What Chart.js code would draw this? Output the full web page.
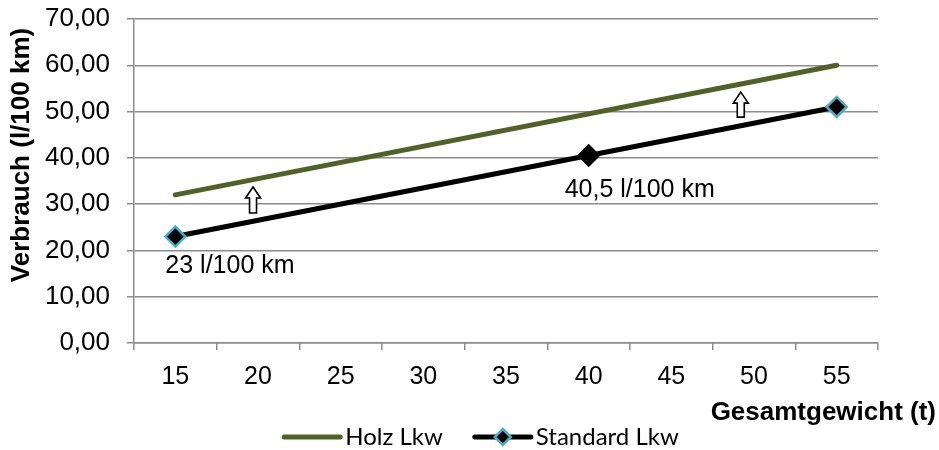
<!DOCTYPE html>
<html>
<head>
<meta charset="utf-8">
<script src="https://cdn.jsdelivr.net/npm/chart.js@4.4.1/dist/chart.umd.min.js"></script>
<style>
  html, body { margin: 0; padding: 0; background: #ffffff; }
  #wrap { width: 939px; height: 450px; position: relative; }
</style>
</head>
<body>
<div id="wrap"><canvas id="chart"></canvas></div>
<script>
// Gesamtgewicht (t) categories and fuel use (l/100 km) per truck type
const categories = ['15', '20', '25', '30', '35', '40', '45', '50', '55'];
const holzLkw = [32, null, null, null, null, null, null, null, 60];
const standardLkw = [23, null, null, null, null, 40.5, null, null, 51];
const yTickValues = [0, 10, 20, 30, 40, 50, 60, 70];

// Standard Lkw points that carry a value label, with the label offset (px)
const valueLabels = [
  { index: 0, dx: -10, dy: 30 },
  { index: 5, dx: -24, dy: 35 }
];

// Hollow up arrows between the two lines: x as category position, y as value span
const upArrows = [
  { at: 0.94, from: 28.1, to: 33.7 },
  { at: 6.84, from: 48.8, to: 54.2 }
];

const GRID = '#8c8c8c';
const OLIVE = '#4f6228';
const DIAMOND_EDGE = '#4bacc6';
const ARIAL = "'Liberation Sans', Arial, sans-serif";
const LEGEND_FONT = "Lato, 'Open Sans', sans-serif";

const fmtComma = (v, digits) => {
  const s = digits === undefined ? String(v) : v.toFixed(digits);
  return s.replace('.', ',');
};

const decorations = {
  id: 'decorations',
  afterDatasetsDraw(chart) {
    const { ctx, scales: { x, y }, chartArea } = chart;
    ctx.save();

    // value labels next to Standard Lkw points
    const meta = chart.getDatasetMeta(1);
    ctx.font = `25px ${ARIAL}`;
    ctx.fillStyle = '#000';
    ctx.textAlign = 'left';
    ctx.textBaseline = 'middle';
    valueLabels.forEach(l => {
      const pt = meta.data[l.index];
      const v = standardLkw[l.index];
      ctx.fillText(`${fmtComma(v)} l/100 km`, pt.x + l.dx, pt.y + l.dy);
    });

    // hollow block arrows
    upArrows.forEach(a => {
      const cx = x.getPixelForValue(a.at);
      const yb = y.getPixelForValue(a.from);
      const yt = y.getPixelForValue(a.to);
      const headH = 11, headW = 7.5, shaftW = 3.5;
      ctx.beginPath();
      ctx.moveTo(cx, yt);
      ctx.lineTo(cx + headW, yt + headH);
      ctx.lineTo(cx + shaftW, yt + headH);
      ctx.lineTo(cx + shaftW, yb);
      ctx.lineTo(cx - shaftW, yb);
      ctx.lineTo(cx - shaftW, yt + headH);
      ctx.lineTo(cx - headW, yt + headH);
      ctx.closePath();
      ctx.fillStyle = '#fff';
      ctx.fill();
      ctx.lineWidth = 1.6;
      ctx.strokeStyle = '#000';
      ctx.lineJoin = 'miter';
      ctx.stroke();
    });

    // axis titles
    ctx.fillStyle = '#000';
    ctx.font = `bold 26px ${ARIAL}`;
    ctx.textAlign = 'right';
    ctx.textBaseline = 'middle';
    ctx.fillText('Gesamtgewicht (t)', chartArea.right + 58, 413);

    ctx.save();
    ctx.translate(22, 155);
    ctx.rotate(-Math.PI / 2);
    ctx.textAlign = 'center';
    ctx.fillText('Verbrauch (l/100 km)', 0, 0);
    ctx.restore();

    // legend
    ctx.font = `24px ${LEGEND_FONT}`;
    ctx.textAlign = 'left';
    const sample = 56, gapText = 5, gapItem = 32;
    const items = chart.data.datasets.map(ds => ({ ds, w: sample + gapText + ctx.measureText(ds.label).width }));
    const total = items.reduce((s, it) => s + it.w, 0) + gapItem * (items.length - 1);
    let lx = chart.width / 2 + 12 - total / 2;
    const ly = 437;
    items.forEach(({ ds, w }) => {
      ctx.beginPath();
      ctx.moveTo(lx, ly);
      ctx.lineTo(lx + sample, ly);
      ctx.lineWidth = 5;
      ctx.lineCap = 'round';
      ctx.strokeStyle = ds.borderColor;
      ctx.stroke();
      if (ds.pointRadius > 0) {
        const r = 8, mx = lx + sample / 2;
        ctx.beginPath();
        ctx.moveTo(mx, ly - r);
        ctx.lineTo(mx + r, ly);
        ctx.lineTo(mx, ly + r);
        ctx.lineTo(mx - r, ly);
        ctx.closePath();
        ctx.fillStyle = ds.pointBackgroundColor;
        ctx.fill();
        ctx.lineWidth = 2.5;
        ctx.lineCap = 'butt';
        ctx.strokeStyle = DIAMOND_EDGE;
        ctx.stroke();
      }
      ctx.fillStyle = '#000';
      ctx.textBaseline = 'middle';
      ctx.fillText(ds.label, lx + sample + gapText, ly);
      lx += w + gapItem;
    });

    ctx.restore();
  }
};

new Chart(document.getElementById('chart'), {
  type: 'line',
  data: {
    labels: categories,
    datasets: [
      {
        label: 'Holz Lkw',
        data: holzLkw,
        borderColor: OLIVE,
        backgroundColor: OLIVE,
        borderWidth: 5,
        borderCapStyle: 'round',
        pointRadius: 0,
        pointHoverRadius: 0,
        spanGaps: true,
        tension: 0
      },
      {
        label: 'Standard Lkw',
        data: standardLkw,
        borderColor: '#000000',
        backgroundColor: '#000000',
        borderWidth: 5,
        borderCapStyle: 'butt',
        pointStyle: 'rectRot',
        pointRadius: 10,
        pointHoverRadius: 10,
        pointBackgroundColor: '#000000',
        pointBorderColor: standardLkw.map((v, i) => (i === 0 || i === standardLkw.length - 1) ? DIAMOND_EDGE : '#000000'),
        pointBorderWidth: 2.5,
        spanGaps: true,
        tension: 0
      }
    ]
  },
  options: {
    responsive: true,
    maintainAspectRatio: false,
    animation: false,
    devicePixelRatio: 1,
    layout: { padding: { left: 40, right: 61, top: 19, bottom: 0 } },
    plugins: {
      legend: { display: false },
      tooltip: { enabled: false }
    },
    scales: {
      x: {
        type: 'category',
        offset: true,
        grid: {
          display: true,
          drawOnChartArea: false,
          offset: true,
          tickLength: 7,
          color: GRID,
          lineWidth: 1.5
        },
        border: { color: GRID, width: 1.5 },
        ticks: {
          color: '#000',
          font: { family: ARIAL, size: 25 },
          padding: 12,
          maxRotation: 0,
          autoSkip: false
        },
        afterFit(scale) { scale.height = 107; }
      },
      y: {
        min: 0,
        max: 70,
        afterBuildTicks(scale) { scale.ticks = yTickValues.map(v => ({ value: v })); },
        grid: { color: GRID, lineWidth: 1.5, tickLength: 7 },
        border: { color: GRID, width: 1.5 },
        ticks: {
          color: '#000',
          font: { family: ARIAL, size: 26 },
          padding: 17,
          callback: v => fmtComma(v, 2)
        },
        afterFit(scale) {
          scale.width = 94;
          scale.paddingTop = 0;
          scale.paddingBottom = 0;
        }
      }
    }
  },
  plugins: [decorations]
});
</script>
</body>
</html>
